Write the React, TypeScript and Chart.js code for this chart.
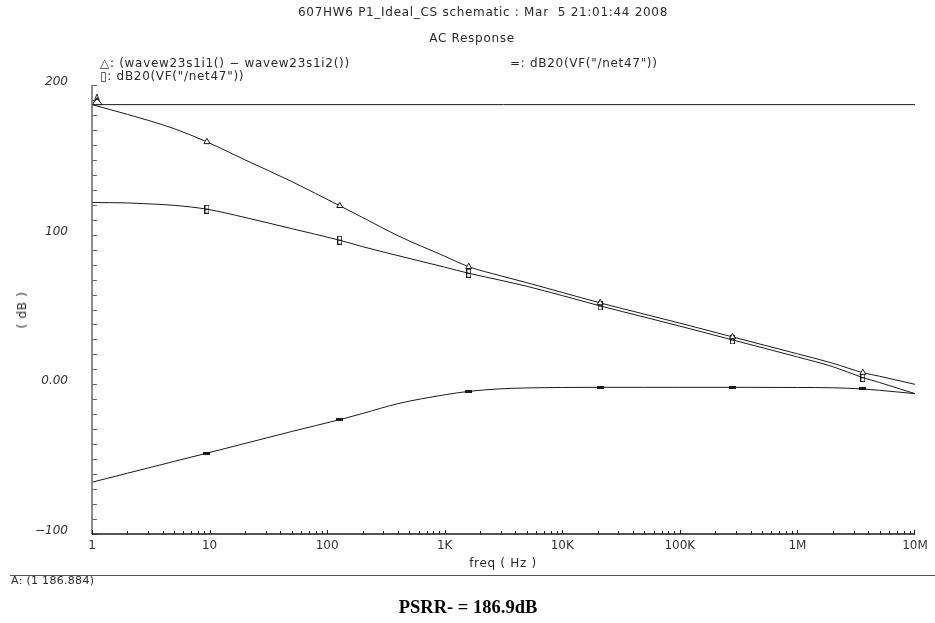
import React, { useEffect, useRef } from "react";
import { Chart, registerables } from "chart.js";

Chart.register(...registerables);

// Sweep frequencies (Hz) and the three traces in dB
const freqHz = [1, 2, 3, 5, 9.5, 20, 50, 128, 200, 400, 1000, 1600, 3000, 5000, 1e4, 2.1e4, 5e4, 1e5, 2.8e5, 1e6, 2e6, 3.6e6, 5e6, 1e7];
const psrrDiffDb = [186.9, 180.4, 176.4, 170.8, 162, 150, 135.5, 119.3, 111.5, 99.3, 85.6, 78.6, 72.5, 67.9, 61.4, 54.4, 46.9, 40.9, 31.7, 20.4, 14.1, 7.8, 5.4, 0];
const net47GainDb = [121.5, 121.2, 120.6, 119.6, 117, 111.5, 104, 96.3, 92, 86, 78.3, 74.2, 69.5, 65.5, 59.3, 52.4, 44.9, 38.9, 29.7, 18.3, 11.8, 4.5, 1.2, -6.2];
const net47SupplyDb = [-65.4, -59.4, -55.9, -51.5, -46, -39.5, -31.5, -23.6, -19.5, -12.9, -7.0, -4.7, -3.0, -2.4, -2.1, -2.0, -2.0, -2.0, -2.0, -2.1, -2.3, -3.1, -4.0, -6.2];

// Frequencies where the trace symbols sit
const markerFreqs = [9.5, 128, 1600, 2.1e4, 2.8e5, 3.6e6];

// Cursor A
const cursorFreq = 1;
const cursorDb = 186.884;

const xDecades = [1, 10, 100, 1e3, 1e4, 1e5, 1e6, 1e7];
const xTickLabels = ["1", "10", "100", "1K", "10K", "100K", "1M", "10M"];
const yMajorTicks = [-100, 0, 100, 200];
const yTickLabels = ["\u2212100", "0.00", "100", "200"];

const INK = "#1a1a1a";
const FONT = "'DejaVu Sans', sans-serif";

function makeMarker(w: number, h: number, draw: (c: CanvasRenderingContext2D) => void) {
  const c = document.createElement("canvas");
  c.width = w;
  c.height = h;
  const ctx = c.getContext("2d")!;
  draw(ctx);
  return c;
}

const axesPlugin = {
  id: "scopeAxes",
  afterDatasetsDraw(chart: any) {
    const { ctx, chartArea } = chart;
    const xs = chart.scales.x;
    const ys = chart.scales.y;
    ctx.save();
    // left axis with 10 dB ticks pointing inward
    ctx.strokeStyle = "#666";
    ctx.lineWidth = 1.5;
    ctx.beginPath();
    ctx.moveTo(chartArea.left, chartArea.top);
    ctx.lineTo(chartArea.left, chartArea.bottom);
    ctx.stroke();
    ctx.lineWidth = 1;
    ctx.beginPath();
    for (let v = -100; v <= 200; v += 10) {
      const y = Math.round(ys.getPixelForValue(v)) + 0.5;
      ctx.moveTo(chartArea.left, y);
      ctx.lineTo(chartArea.left + 5, y);
    }
    ctx.stroke();
    // bottom axis with 1..9 ticks per decade
    ctx.strokeStyle = INK;
    ctx.lineWidth = 1.5;
    ctx.beginPath();
    ctx.moveTo(chartArea.left, chartArea.bottom);
    ctx.lineTo(chartArea.right, chartArea.bottom);
    ctx.stroke();
    ctx.lineWidth = 1;
    ctx.beginPath();
    for (let d = 0; d < 7; d++) {
      for (let m = 1; m <= 9; m++) {
        const f = m * Math.pow(10, d);
        const x = Math.round(xs.getPixelForValue(f)) + 0.5;
        ctx.moveTo(x, chartArea.bottom);
        ctx.lineTo(x, chartArea.bottom - (m === 1 ? 4 : 3));
      }
    }
    const xe = Math.round(xs.getPixelForValue(1e7)) - 0.5;
    ctx.moveTo(xe, chartArea.bottom);
    ctx.lineTo(xe, chartArea.bottom - 4);
    ctx.stroke();
    // cursor A symbol
    const cx = xs.getPixelForValue(cursorFreq);
    const cy = ys.getPixelForValue(cursorDb);
    ctx.strokeStyle = INK;
    ctx.fillStyle = "#fff";
    ctx.beginPath();
    ctx.moveTo(cx + 0.5, cy);
    ctx.lineTo(cx + 10, cy);
    ctx.lineTo(cx + 5, cy - 7);
    ctx.closePath();
    ctx.fill();
    ctx.stroke();
    ctx.fillStyle = "#222";
    ctx.font = `10px ${FONT}`;
    ctx.textAlign = "center";
    ctx.textBaseline = "alphabetic";
    ctx.fillText("A", cx + 5, cy - 3);
    ctx.restore();
  },
};

const ChartBox: React.FC = () => {
  const ref = useRef<HTMLCanvasElement>(null);

  useEffect(() => {
    if (!ref.current) return;
    const rectMarker = makeMarker(5, 9, (c) => {
      c.strokeStyle = INK;
      c.lineWidth = 1;
      c.strokeRect(0.5, 0.5, 4, 8);
      c.fillStyle = INK;
      c.fillRect(0, 4, 5, 1);
    });
    const dashMarker = makeMarker(7, 3, (c) => {
      c.fillStyle = INK;
      c.fillRect(0, 0, 7, 3);
    });
    const pts = (vals: number[]) => freqHz.map((f, i) => ({ x: f, y: vals[i] }));
    const markR = (size: number) => (c: any) => (markerFreqs.includes(freqHz[c.dataIndex]) ? size : 0);

    const chart = new Chart(ref.current, {
      type: "line",
      data: {
        datasets: [
          {
            label: "(wavew23s1i1() \u2212 wavew23s1i2())",
            data: pts(psrrDiffDb),
            borderColor: INK,
            borderWidth: 1,
            cubicInterpolationMode: "monotone",
            pointStyle: "triangle",
            pointRadius: markR(3.5),
            pointBackgroundColor: "#fff",
            pointBorderColor: INK,
            pointBorderWidth: 1,
          },
          {
            label: 'dB20(VF("/net47"))',
            data: pts(net47GainDb),
            borderColor: INK,
            borderWidth: 1,
            cubicInterpolationMode: "monotone",
            pointStyle: rectMarker as any,
            pointRadius: markR(3),
          },
          {
            label: 'dB20(VF("/net47"))',
            data: pts(net47SupplyDb),
            borderColor: INK,
            borderWidth: 1,
            cubicInterpolationMode: "monotone",
            pointStyle: dashMarker as any,
            pointRadius: markR(3),
          },
          {
            label: "A",
            data: [
              { x: freqHz[0], y: cursorDb },
              { x: freqHz[freqHz.length - 1], y: cursorDb },
            ],
            borderColor: INK,
            borderWidth: 1,
            pointRadius: 0,
          },
        ],
      },
      options: {
        responsive: false,
        animation: false,
        events: [],
        layout: { padding: { top: 85, right: 20, left: 0, bottom: 0 } },
        plugins: { legend: { display: false }, tooltip: { enabled: false }, title: { display: false } },
        scales: {
          x: {
            type: "logarithmic",
            min: 1,
            max: 1e7,
            afterBuildTicks: (s: any) => {
              s.ticks = xDecades.map((v) => ({ value: v }));
            },
            afterFit: (s: any) => {
              s.height = 89;
            },
            grid: { display: true, drawOnChartArea: false, drawTicks: false, color: "rgba(0,0,0,0)" },
            border: { display: false },
            ticks: {
              autoSkip: false,
              maxRotation: 0,
              padding: 5,
              color: "#333",
              font: { family: FONT, size: 12 },
              callback: (v: any) => {
                const i = xDecades.indexOf(Number(v));
                return i >= 0 ? xTickLabels[i] : "";
              },
            },
          },
          y: {
            type: "linear",
            min: -100,
            max: 200,
            afterBuildTicks: (s: any) => {
              s.ticks = yMajorTicks.map((v) => ({ value: v }));
            },
            afterFit: (s: any) => {
              s.width = 92;
            },
            grid: { display: true, drawOnChartArea: false, drawTicks: false, color: "rgba(0,0,0,0)" },
            border: { display: false },
            ticks: {
              autoSkip: false,
              padding: 24,
              labelOffset: -3,
              color: "#333",
              font: { family: FONT, size: 12, style: "italic" },
              callback: (v: any) => {
                const i = yMajorTicks.indexOf(Number(v));
                return i >= 0 ? yTickLabels[i] : "";
              },
            },
          },
        },
      },
      plugins: [axesPlugin],
    } as any);
    return () => chart.destroy();
  }, []);

  return <canvas ref={ref} width={935} height={623} style={{ position: "absolute", left: 0, top: 0 }} />;
};

const txt: React.CSSProperties = {
  position: "absolute",
  fontFamily: FONT,
  fontSize: 12,
  lineHeight: "14px",
  letterSpacing: "0.7px",
  color: "#2a2a2a",
  whiteSpace: "pre",
};

export default function App() {
  return (
    <div style={{ position: "absolute", left: 0, top: 0, width: 935, height: 623, background: "#fff", overflow: "hidden" }}>
      <ChartBox />
      <div style={{ ...txt, left: 483, top: 5, transform: "translateX(-50%)" }}>
        {"607HW6 P1_Ideal_CS schematic : Mar  5 21:01:44 2008"}
      </div>
      <div style={{ ...txt, left: 472, top: 31, transform: "translateX(-50%)" }}>AC Response</div>
      <div style={{ ...txt, left: 100, top: 56 }}>{"\u25B3: (wavew23s1i1() \u2212 wavew23s1i2())"}</div>
      <div style={{ ...txt, left: 100, top: 69 }}>{'\u25AF: dB20(VF("/net47"))'}</div>
      <div style={{ ...txt, left: 510, top: 56 }}>{'=: dB20(VF("/net47"))'}</div>
      <div style={{ ...txt, left: 22, top: 310, transform: "translate(-50%, -50%) rotate(-90deg)" }}>( dB )</div>
      <div style={{ ...txt, left: 503, top: 556, transform: "translateX(-50%)" }}>freq ( Hz )</div>
      <div style={{ position: "absolute", left: 10, top: 575, width: 925, height: 0, borderTop: "1px solid #555" }} />
      <div style={{ ...txt, left: 11, top: 574, fontSize: 11, letterSpacing: "0.3px" }}>A: (1 186.884)</div>
      <div
        style={{
          position: "absolute",
          left: 468,
          top: 596,
          transform: "translateX(-50%)",
          fontFamily: "'Liberation Serif', 'Times New Roman', serif",
          fontWeight: "bold",
          fontSize: 18.5,
          lineHeight: "22px",
          color: "#000",
          whiteSpace: "pre",
        }}
      >
        PSRR- = 186.9dB
      </div>
    </div>
  );
}
